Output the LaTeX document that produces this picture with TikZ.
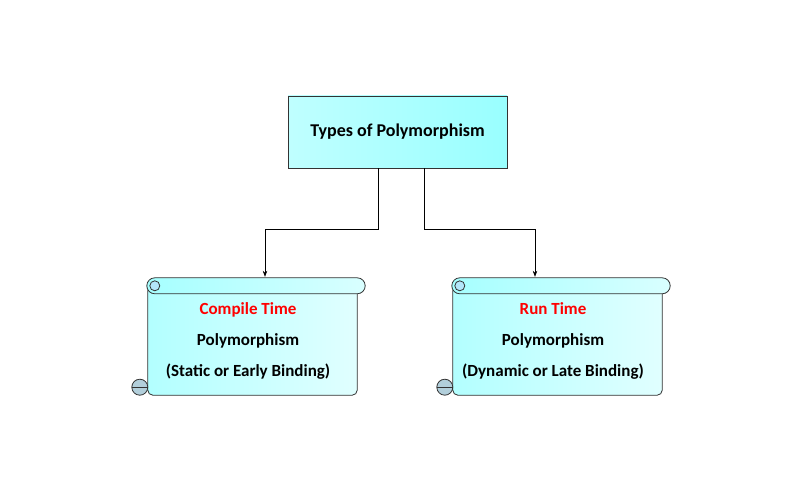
\documentclass[tikz,border=0pt]{standalone}
\usepackage{fontspec}
\setmainfont{Carlito}
\usetikzlibrary{arrows.meta}
\tikzstyle{title} = [rectangle, draw = black!80, thick, left color = cyan!25, right color = cyan!40, minimum width = 219pt, minimum height = 72pt, font = \bfseries\fontsize{18}{20}\selectfont]
\tikzstyle{scroll} = [rectangle, minimum width = 218pt, minimum height = 117pt]
\tikzstyle{scrolltext} = [align = center, font = \bfseries\fontsize{17}{31}\selectfont]
\tikzstyle{roll} = [draw = black!80, thick, fill = cyan!20]
\tikzstyle{link} = [-{Stealth[length = 6pt]}, semithick]

% draws a scroll around the named node
\newcommand{\scrollpaper}[1]{
    \path[roll, left color = cyan!30, right color = cyan!12, rounded corners = 5pt]
        ([xshift = 1pt, yshift = -8pt]#1.north west) -- ([xshift = -8pt, yshift = -8pt]#1.north east)
        -- ([xshift = -8pt]#1.south east) -- ([xshift = 1pt]#1.south west) -- cycle;
    \path[roll, left color = cyan!35, right color = cyan!15, rounded corners = 8pt] (#1.north west) rectangle ([yshift = -16pt]#1.north east);
    \draw[thick, black!80, fill = cyan!30] ([xshift = 8pt, yshift = -8pt]#1.north west) circle (5pt);
    \draw[thick, black!80, fill = cyan!40!gray!50] ([xshift = -7pt, yshift = 8pt]#1.south west) circle (8pt);
    \draw[thick, black!80] ([xshift = -15pt, yshift = 8pt]#1.south west) -- ([xshift = 1pt, yshift = 8pt]#1.south west);
}

\begin{document}
\begin{tikzpicture}[x = 1pt, y = -1pt]
    \useasboundingbox[fill = white] (0,0) rectangle (800,500);
    % top box
    \node[title] (types) at (397.5,132) {Types of Polymorphism};
    % scrolls
    \node[scroll] (ct) at (256,336.5) {};
    \node[scroll] (rt) at (561,336.5) {};
    \scrollpaper{ct}
    \scrollpaper{rt}
    \node[scrolltext] (ctx) at (248,341) {\textcolor{red}{Compile Time}\\Polymorphism\\(Static or Early Binding)};
    \node[scrolltext] (rtx) at (553,341) {\textcolor{red}{Run Time}\\Polymorphism\\(Dynamic or Late Binding)};
    % connectors
    \coordinate (lk) at (378,229);
    \coordinate (rk) at (424,229);
    \draw[link] (types.south -| lk) -- (lk) -| ([yshift = 1pt]ct.north -| 265,0);
    \draw[link] (types.south -| rk) -- (rk) -| ([yshift = 1pt]rt.north -| 535,0);
\end{tikzpicture}
\end{document}
